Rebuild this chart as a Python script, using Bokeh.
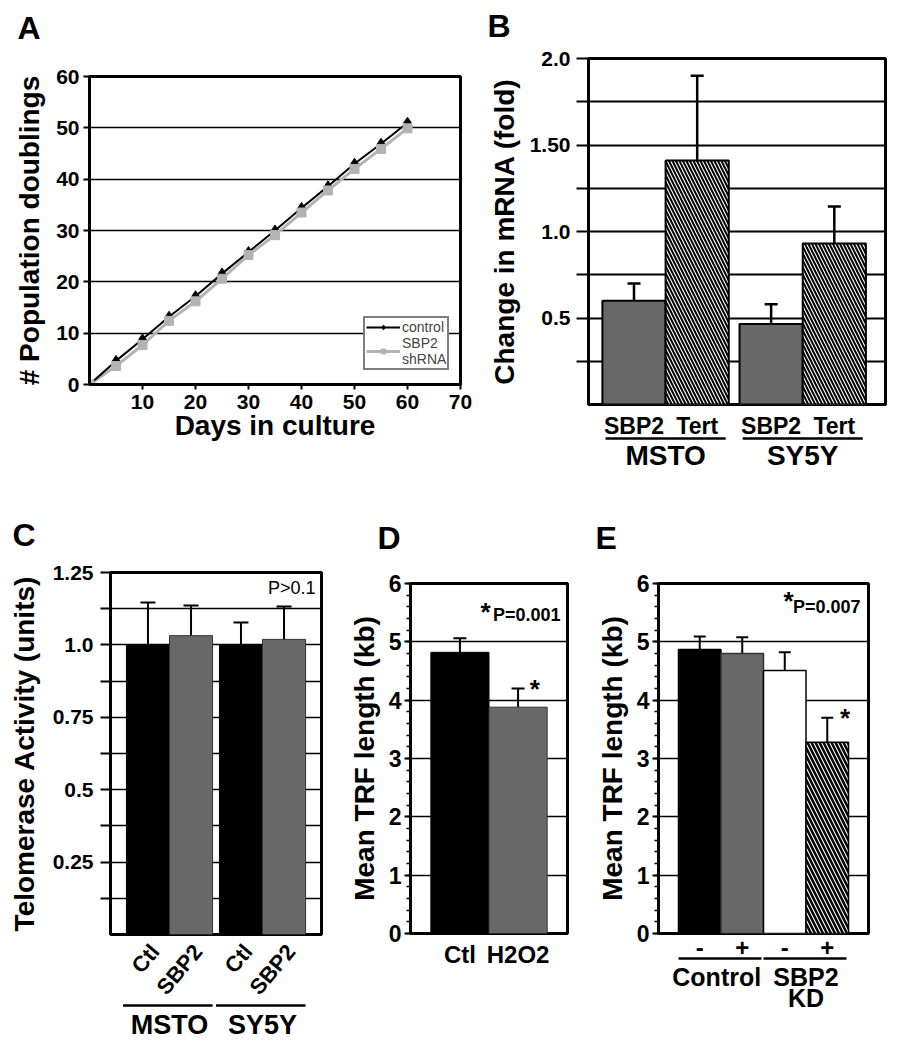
from bokeh.plotting import figure
from bokeh.models import (Range1d, FixedTicker, SingleIntervalTicker, Label, Legend, LegendItem,
                          Whisker, TeeHead, ColumnDataSource, LinearAxis)
from bokeh.layouts import row, column
from bokeh.embed import file_html
from bokeh.resources import INLINE
from bokeh.core.properties import value

FONT = "Liberation Sans"

# ---------------- data ----------------
# Panel A
days = [0, 5, 10, 15, 20, 25, 30, 35, 40, 45, 50, 55, 60]
pd_control = [0, 4.6, 8.8, 13.2, 17.2, 21.6, 25.8, 30.0, 34.4, 38.6, 43.0, 46.9, 51.0]
pd_sbp2 = [0, 3.6, 7.7, 12.4, 16.2, 20.6, 25.2, 29.1, 33.5, 37.8, 42.0, 45.9, 49.9]
a_xticks = [10, 20, 30, 40, 50, 60, 70]
a_yticks = [0, 10, 20, 30, 40, 50, 60]

# Panel B
b_genes = ["SBP2", "Tert", "SBP2", "Tert"]
b_lines = ["MSTO", "MSTO", "SY5Y", "SY5Y"]
b_mean = [0.60, 1.41, 0.465, 0.93]
b_upper = [0.70, 1.90, 0.58, 1.145]
b_ticks = [0.25, 0.5, 0.75, 1.0, 1.25, 1.5, 1.75, 2.0]
b_tick_labels = ["", "0.5", "", "1.0", "", "1.50", "", "2.0"]

# Panel C
c_cond = ["Ctl", "SBP2", "Ctl", "SBP2"]
c_lines = ["MSTO", "MSTO", "SY5Y", "SY5Y"]
c_mean = [1.0, 1.032, 1.0, 1.019]
c_upper = [1.146, 1.136, 1.077, 1.133]
c_ticks = [0.125, 0.25, 0.375, 0.5, 0.625, 0.75, 0.875, 1.0, 1.125, 1.25]
c_tick_labels = ["", "0.25", "", "0.5", "", "0.75", "", "1.0", "", "1.25"]
c_note = "P>0.1"

# Panel D
d_cond = ["Ctl", "H2O2"]
d_mean = [4.82, 3.88]
d_upper = [5.06, 4.20]
d_note = "P=0.001"

# Panel E
e_treat = ["-", "+", "-", "+"]
e_group = ["Control", "Control", "SBP2\nKD", "SBP2\nKD"]
e_mean = [4.87, 4.80, 4.51, 3.28]
e_upper = [5.09, 5.08, 4.82, 3.70]
e_note = "P=0.007"

GRAY = "#686868"
LGRAY = "#b3b3b3"


def base_fig(w, h, bl, br, bt, bb, xr, yr):
    p = figure(width=w, height=h, x_range=xr, y_range=yr, output_backend="svg",
               toolbar_location=None, min_border_left=bl, min_border_right=br,
               min_border_top=bt, min_border_bottom=bb)
    p.outline_line_color = "black"
    p.outline_line_width = 3
    p.outline_line_alpha = 1
    p.xgrid.visible = False
    p.ygrid.grid_line_color = "black"
    p.ygrid.grid_line_width = 1.5
    p.background_fill_color = "white"
    p.border_fill_color = "white"
    for ax in p.axis:
        ax.axis_line_width = 3
        ax.axis_line_color = "black"
        ax.major_tick_line_width = 2
        ax.major_tick_line_color = "black"
        ax.minor_tick_line_color = None
        ax.major_tick_in = 0
        ax.minor_tick_in = 0
        ax.major_label_text_font = FONT
        ax.major_label_text_font_style = "bold"
        ax.major_label_text_color = "black"
        ax.axis_label_text_font = FONT
        ax.axis_label_text_font_style = "bold"
        ax.axis_label_text_color = "black"
        ax.axis_label_text_font_size = "28px"
    return p


def strip(w, h, xr, bl=0, br=0):
    s = figure(width=w, height=h, x_range=xr, y_range=Range1d(-h, 0), output_backend="svg",
               toolbar_location=None, x_axis_location=None, y_axis_location=None,
               min_border=0, min_border_left=bl, min_border_right=br,
               min_border_top=0, min_border_bottom=0)
    s.outline_line_color = None
    s.grid.visible = False
    s.background_fill_color = "white"
    s.border_fill_color = "white"
    return s


def txt(s, xs, ys, texts, size, align="center", baseline="middle", angle=0, style="bold"):
    s.text(x=xs, y=[-y for y in ys], text=texts, text_font=value(FONT),
           text_font_size=value(size), text_font_style=style, text_align=align,
           text_baseline=baseline, angle=angle, angle_units="deg", text_color="black")


def uline(s, x0, x1, y, lw=2.5):
    s.segment(x0=[x0], y0=[-y], x1=[x1], y1=[-y], line_color="black", line_width=lw)


def lab(p, x, y, text, size, xu="screen", yu="screen", align="center", baseline="middle",
        style="bold"):
    p.add_layout(Label(x=x, y=y, x_units=xu, y_units=yu, text=text, text_font=FONT,
                       text_font_size=size, text_font_style=style, text_align=align,
                       text_baseline=baseline, text_color="black"))


def whisk(p, xs, lows, ups, size, lw):
    src = ColumnDataSource(dict(x=xs, lo=lows, up=ups))
    p.add_layout(Whisker(base="x", lower="lo", upper="up", source=src, dimension="height",
                         lower_head=None,
                         upper_head=TeeHead(size=size, line_width=lw, line_color="black"),
                         line_width=lw, line_color="black"))


def letter(w, h, x, yc, t):
    s = strip(w, h, Range1d(0, w))
    txt(s, [x], [yc], [t], "32px", align="left", baseline="middle")
    return row(s)


def label_axis(ax, ticks, labels, size, standoff, line_height=1.2):
    ax.ticker = FixedTicker(ticks=ticks)
    ax.major_label_overrides = {t: l for t, l in zip(ticks, labels)}
    ax.axis_line_color = None
    ax.major_tick_line_color = None
    ax.major_tick_out = 0
    ax.minor_tick_out = 0
    ax.major_label_standoff = standoff
    ax.major_label_text_font = FONT
    ax.major_label_text_font_style = "bold"
    ax.major_label_text_font_size = size
    ax.major_label_text_color = "black"
    ax.major_label_text_line_height = line_height


def under_axis(p, x0, x1, lw=2.5):
    ax = LinearAxis(bounds=(x0, x1), ticker=FixedTicker(ticks=[]), axis_line_width=lw,
                    axis_line_color="black", major_tick_line_color=None,
                    minor_tick_line_color=None, major_tick_out=0, minor_tick_out=0,
                    major_tick_in=0, minor_tick_in=0, major_label_standoff=0)
    p.add_layout(ax, "below")


# ---------------- Panel A ----------------
WA, WB = 475, 422
pA = base_fig(WA, 465, 89, 15, 26, 131, Range1d(0, 70), Range1d(0, 60))
pA.xaxis.ticker = FixedTicker(ticks=a_xticks)
pA.yaxis.ticker = FixedTicker(ticks=a_yticks)
pA.ygrid.ticker = FixedTicker(ticks=a_yticks)
pA.xaxis.major_tick_out = 5
pA.yaxis.major_tick_out = 6
pA.xaxis.major_label_standoff = 5
pA.yaxis.major_label_standoff = 4
pA.axis.major_label_text_font_size = "21px"
pA.xaxis.axis_label = "Days in culture"
pA.yaxis.axis_label = "# Population doublings"
pA.xaxis.axis_label_standoff = -2
pA.yaxis.axis_label_standoff = 8

r_gl = pA.line(days, pd_sbp2, line_color=LGRAY, line_width=3)
r_bl = pA.line(days, pd_control, line_color="black", line_width=2)
r_bd = pA.scatter(days, pd_control, marker="diamond", size=11, color="black")
r_gs = pA.scatter(days, pd_sbp2, marker="square", size=9, color=LGRAY)
legA = Legend(items=[LegendItem(label="control", renderers=[r_bl, r_bd]),
                     LegendItem(label="SBP2\nshRNA", renderers=[r_gl, r_gs])],
              location=(274, 14))
legA.border_line_color = "black"
legA.border_line_width = 2
legA.background_fill_color = "white"
legA.background_fill_alpha = 1
legA.padding = 1
legA.spacing = 0
legA.margin = 0
legA.label_text_font = FONT
legA.label_text_font_size = "14px"
legA.label_text_line_height = 0.65
legA.label_standoff = 2
legA.glyph_width = 34
legA.glyph_height = 12
legA.label_height = 10
pA.add_layout(legA)
colA = column(letter(WA, 50, 17, 27, "A"), pA)

# ---------------- Panel B ----------------
b_x = [0.72 + i + 0.17 * (i // 2) for i in range(len(b_mean))]
bxr = Range1d(0, 4.7)
pB = base_fig(WB, 364, 113, 12, 14, 4, bxr, Range1d(0, 2.0))
pB.xaxis.visible = False
pB.yaxis.ticker = FixedTicker(ticks=b_ticks)
pB.ygrid.ticker = FixedTicker(ticks=b_ticks)
pB.yaxis.major_label_overrides = {t: s for t, s in zip(b_ticks, b_tick_labels)}
pB.yaxis.major_tick_out = 12
pB.yaxis.major_label_standoff = 6
pB.yaxis.major_label_text_font_size = "21px"
pB.yaxis.axis_label = "Change in mRNA (fold)"
pB.yaxis.axis_label_standoff = 7
pB.ygrid.grid_line_width = 2
sb = [i for i, g in enumerate(b_genes) if g == "SBP2"]
tt = [i for i, g in enumerate(b_genes) if g == "Tert"]
pB.vbar(x=[b_x[i] for i in sb], top=[b_mean[i] for i in sb], width=1, bottom=0,
        fill_color=GRAY, line_color="black", line_width=2)
pB.vbar(x=[b_x[i] for i in tt], top=[b_mean[i] for i in tt], width=1, bottom=0,
        fill_color="white", line_color="black", line_width=2,
        hatch_pattern="\\", hatch_color="black", hatch_scale=7, hatch_weight=2)
whisk(pB, b_x, b_mean, b_upper, 13, 2.5)
botB = strip(WB, 107, bxr, 113, 12)
txt(botB, b_x, [17] * len(b_x), b_genes, "23px")
for grp in ["MSTO", "SY5Y"]:
    idx = [i for i, l in enumerate(b_lines) if l == grp]
    uline(botB, b_x[idx[0]] - 0.45, b_x[idx[-1]] + 0.45, 30)
    txt(botB, [(b_x[idx[0]] + b_x[idx[-1]]) / 2], [47], [grp], "28px")
colB = column(letter(WB, 44, 12, 25, "B"), pB, botB)

# ---------------- Panel C ----------------
WC, WD, WE = 323, 252, 322
c_x = [0.87 + i + 0.16 * (i // 2) for i in range(len(c_mean))]
cxr = Range1d(0, 4.9)
pC = base_fig(WC, 383, 110, 2, 17, 4, cxr, Range1d(0, 1.25))
pC.xaxis.visible = False
pC.yaxis.ticker = FixedTicker(ticks=c_ticks)
pC.ygrid.ticker = FixedTicker(ticks=c_ticks)
pC.yaxis.major_label_overrides = {t: s for t, s in zip(c_ticks, c_tick_labels)}
pC.yaxis.major_tick_out = 10
pC.yaxis.major_label_standoff = 7
pC.yaxis.major_label_text_font_size = "21px"
pC.yaxis.axis_label = "Telomerase Activity (units)"
pC.yaxis.axis_label_standoff = 10
cc = [i for i, c in enumerate(c_cond) if c == "Ctl"]
cs = [i for i, c in enumerate(c_cond) if c == "SBP2"]
pC.vbar(x=[c_x[i] for i in cc], top=[c_mean[i] for i in cc], width=1, bottom=0,
        fill_color="black", line_color="black", line_width=1)
pC.vbar(x=[c_x[i] for i in cs], top=[c_mean[i] for i in cs], width=1, bottom=0,
        fill_color=GRAY, line_color="#333333", line_width=1)
whisk(pC, c_x, c_mean, c_upper, 15, 2)
lab(pC, 205, 347, c_note, "18px", align="right", style="normal")
botC = strip(WC, 110, cxr, 110, 2)
txt(botC, [x + 0.16 for x in c_x], [9] * len(c_x), c_cond, "22px", align="right", angle=50)
for grp in ["MSTO", "SY5Y"]:
    idx = [i for i, l in enumerate(c_lines) if l == grp]
    uline(botC, c_x[idx[0]] - 0.58, c_x[idx[-1]] + 0.5, 67)
    txt(botC, [(c_x[idx[0]] + c_x[idx[-1]]) / 2], [86], [grp], "27px")
colC = column(letter(WC, 40, 12, 19, "C"), pC, botC)


# ---------------- Panel D / E helpers ----------------
def trf_fig(w, bl, br, xr):
    p = base_fig(w, 493, bl, br, 28, 115, xr, Range1d(0, 6))
    p.yaxis.ticker = SingleIntervalTicker(interval=1, num_minor_ticks=5)
    p.ygrid.ticker = SingleIntervalTicker(interval=1)
    p.yaxis.minor_tick_line_color = "black"
    p.yaxis.minor_tick_line_width = 1.5
    p.yaxis.minor_tick_out = 4
    p.yaxis.major_tick_out = 6
    p.yaxis.major_label_standoff = 3
    p.yaxis.major_label_text_font_size = "23px"
    p.yaxis.axis_label = "Mean TRF length (kb)"
    p.yaxis.axis_label_standoff = 6
    return p


# ---------------- Panel D ----------------
d_x = [0.85 + i for i in range(len(d_mean))]
dxr = Range1d(0, 2.7)
pD = trf_fig(WD, 87, 8, dxr)
label_axis(pD.xaxis[0], d_x, d_cond, "24px", 7)
pD.vbar(x=[d_x[0]], top=[d_mean[0]], width=1, bottom=0, fill_color="black",
        line_color="black", line_width=1)
pD.vbar(x=[d_x[1]], top=[d_mean[1]], width=1, bottom=0, fill_color=GRAY,
        line_color="#333333", line_width=1)
whisk(pD, d_x, d_mean, d_upper, 13, 2)
lab(pD, 150, 319, d_note, "18px", align="right")
lab(pD, 75, 322, "*", "26px")
lab(pD, d_x[1] + 0.2, d_upper[1], "*", "26px", yu="data", xu="data", align="left")
colD = column(letter(WD, 40, 54, 22, "D"), pD)

# ---------------- Panel E ----------------
e_x = [0.97 + i for i in range(len(e_mean))]
exr = Range1d(0, 4.94)
pE = trf_fig(WE, 83, 29, exr)
label_axis(pE.xaxis[0], e_x, e_treat, "24px", 5)
e_fill = ["black", GRAY, "white", "white"]
e_line = ["black", "#333333", "black", "black"]
for i in range(3):
    pE.vbar(x=[e_x[i]], top=[e_mean[i]], width=1, bottom=0, fill_color=e_fill[i],
            line_color=e_line[i], line_width=1.5)
pE.vbar(x=[e_x[3]], top=[e_mean[3]], width=1, bottom=0, fill_color="white",
        line_color="black", line_width=1.5, hatch_pattern="\\", hatch_color="black",
        hatch_scale=8, hatch_weight=2.5)
whisk(pE, e_x, e_mean, e_upper, 12, 2)
lab(pE, 202, 327, e_note, "18px", align="right")
lab(pE, 130, 333, "*", "26px")
lab(pE, e_x[3] + 0.3, e_upper[3], "*", "26px", yu="data", xu="data", align="left")
e_groups = []
for g in e_group:
    if g not in e_groups:
        e_groups.append(g)
g_centers = []
for k, grp in enumerate(e_groups):
    idx = [i for i, g in enumerate(e_group) if g == grp]
    under_axis(pE, e_x[idx[0]] - 0.5, e_x[idx[-1]] + 0.45)
    g_centers.append((e_x[idx[0]] + e_x[idx[-1]]) / 2 - (0.1 if k == 0 else 0.0))
grp_ax = LinearAxis()
pE.add_layout(grp_ax, "below")
label_axis(grp_ax, g_centers, e_groups, "25px", 4, line_height=0.75)
colE = column(letter(WE, 40, 20, 22, "E"), pE)

layout = column(row(colA, colB), row(colC, colD, colE))
open("out.html", "w").write(file_html(layout, INLINE))
